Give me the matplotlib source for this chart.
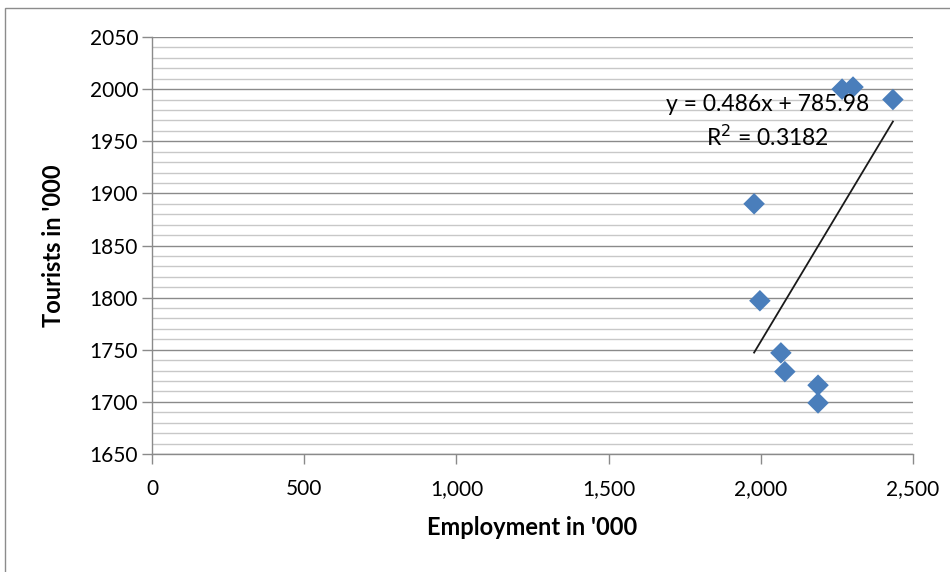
import matplotlib
matplotlib.use("Agg")
import matplotlib.pyplot as plt
from matplotlib.ticker import MultipleLocator, FuncFormatter
from matplotlib.patches import Rectangle
import numpy as np

plt.rcParams['font.family'] = ['Lato', 'DejaVu Sans']

# Employment vs tourists (both in thousands)
employment = [1978, 1997, 2066, 2079, 2188, 2188, 2267, 2303, 2434]
tourists = [1890, 1797, 1747, 1729, 1716, 1699, 2000, 2002, 1990]

# Linear trendline coefficients
slope = 0.486
intercept = 785.98
r_squared = 0.3182

fig = plt.figure(figsize=(9.5, 5.72), dpi=100)
W, H = 950, 572
ax = fig.add_axes([152 / W, 1 - 454 / H, (913 - 152) / W, (454 - 37) / H])

# chart-area border
fig.patches.append(Rectangle((5 / W, -0.01), 1.0, 1 - 8 / H + 0.01,
                             transform=fig.transFigure, fill=False,
                             edgecolor='#8c8c8c', linewidth=1.0))

ax.set_xlim(0, 2500)
ax.set_ylim(1650, 2050)

ax.xaxis.set_major_locator(MultipleLocator(500))
ax.yaxis.set_major_locator(MultipleLocator(50))
ax.yaxis.set_minor_locator(MultipleLocator(10))
ax.xaxis.set_major_formatter(FuncFormatter(lambda v, p: f"{int(v):,}"))

ax.grid(True, which='major', axis='y', color='#8a8a8a', linewidth=1.0)
ax.grid(True, which='minor', axis='y', color='#c8c8c8', linewidth=1.0)
ax.set_axisbelow(True)

for s in ['top', 'right']:
    ax.spines[s].set_visible(False)
for s in ['left', 'bottom']:
    ax.spines[s].set_color('#8a8a8a')
    ax.spines[s].set_linewidth(1.0)

ax.tick_params(axis='both', which='major', length=7, width=1.0, color='#8a8a8a',
               labelsize=15, labelcolor='#000000')
ax.tick_params(axis='y', which='minor', length=0)
ax.tick_params(axis='x', pad=11)
ax.tick_params(axis='y', pad=3)

ax.scatter(employment, tourists, marker='D', s=120, color='#4a7ebb',
           edgecolors='none', zorder=3)

xs = np.array([min(employment), max(employment)])
ax.plot(xs, slope * xs + intercept, color='#1a1a1a', linewidth=1.3, zorder=2)

ax.text(0.809, 0.837, f"y = {slope}x + {intercept}", transform=ax.transAxes,
        ha='center', va='center', fontsize=16.5)
ax.text(0.809, 0.760, f"R$^2$ = {r_squared}", transform=ax.transAxes,
        ha='center', va='center', fontsize=16.5)

ax.set_xlabel("Employment in '000", fontsize=17, fontweight='bold', labelpad=12)
ax.set_ylabel("Tourists in '000", fontsize=17, fontweight='bold', labelpad=18)

fig.savefig("out.png", dpi=100)
